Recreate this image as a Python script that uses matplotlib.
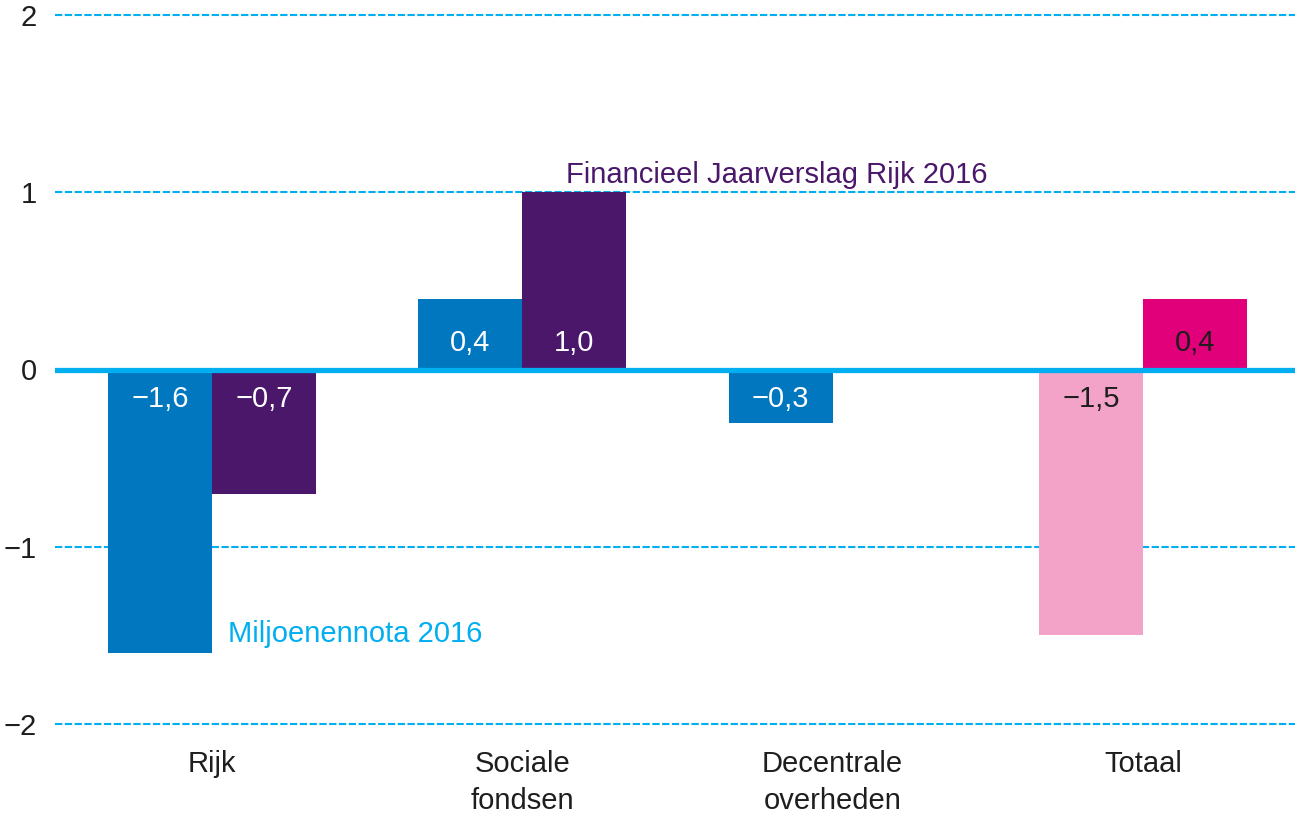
import numpy as np
import matplotlib.pyplot as plt
import matplotlib.ticker as mticker

plt.rcParams["font.family"] = ["Liberation Sans", "DejaVu Sans"]

categories = ["Rijk", "Sociale\nfondsen", "Decentrale\noverheden", "Totaal"]
mn_2016 = [-1.6, 0.4, -0.3, -1.5]     # Miljoenennota 2016
fjr_2016 = [-0.7, 1.0, 0.0, 0.4]      # Financieel Jaarverslag Rijk 2016

BLUE = "#0077BE"
PURPLE = "#4A176B"
PINK = "#F4A3C8"
MAGENTA = "#E2007A"
LIGHT = "#01AEEF"
DARK = "#1E1E1E"

mn_colors = [BLUE, BLUE, BLUE, PINK]
fjr_colors = [PURPLE, PURPLE, PURPLE, MAGENTA]
mn_text = ["white", "white", "white", DARK]
fjr_text = ["white", "white", "white", DARK]

FS = 21

fig = plt.figure(figsize=(12.99, 8.18), dpi=100)
ax = fig.add_axes([55 / 1299, 1 - 724 / 818, 1240 / 1299, 709 / 818])

x = np.arange(len(categories))
w = 0.335
ax.bar(x - w / 2, mn_2016, w, color=mn_colors, zorder=2)
ax.bar(x + w / 2, fjr_2016, w, color=fjr_colors, zorder=2)


def fmt(v):
    s = f"{abs(v):.1f}".replace(".", ",")
    return ("\u2212" + s) if v < 0 else s


# value labels inside the bars, next to the zero line
for xs, vals, tcols in [(x - w / 2, mn_2016, mn_text), (x + w / 2, fjr_2016, fjr_text)]:
    for xi, v, tc in zip(xs, vals, tcols):
        if v == 0:
            continue
        off = 19 if v > 0 else -21
        ax.annotate(fmt(v), (xi, 0), xytext=(0, off), textcoords="offset points",
                    ha="center", va="center", fontsize=FS, color=tc, zorder=4)

# grid + zero line
for yv in [2, 1, -1, -2]:
    ax.axhline(yv, color=LIGHT, lw=1.5, ls=(0, (3.5, 1.2)), zorder=1, clip_on=False)
ax.axhline(0, color=LIGHT, lw=3.8, zorder=3)

ax.text(0.05, -1.49, "Miljoenennota 2016", color=LIGHT, fontsize=FS, ha="left", va="center")
ax.text(1.14, 1.10, "Financieel Jaarverslag Rijk 2016", color=PURPLE, fontsize=FS,
        ha="left", va="center")

ax.set_xlim(-0.506, 3.49)
ax.set_ylim(-2, 2)
ax.set_yticks([-2, -1, 0, 1, 2])
ax.yaxis.set_major_formatter(mticker.FuncFormatter(
    lambda v, _: ("\u2212" if v < 0 else "") + f"{abs(int(round(v)))}"))
ax.set_xticks(x)
ax.set_xticklabels(categories, fontsize=FS, color=DARK, linespacing=1.4, va="top")
ax.tick_params(axis="x", length=0, pad=19)
ax.tick_params(axis="y", length=0, pad=13, labelsize=FS, labelcolor=DARK)
for s in ax.spines.values():
    s.set_visible(False)

fig.savefig("out.png", dpi=100)
